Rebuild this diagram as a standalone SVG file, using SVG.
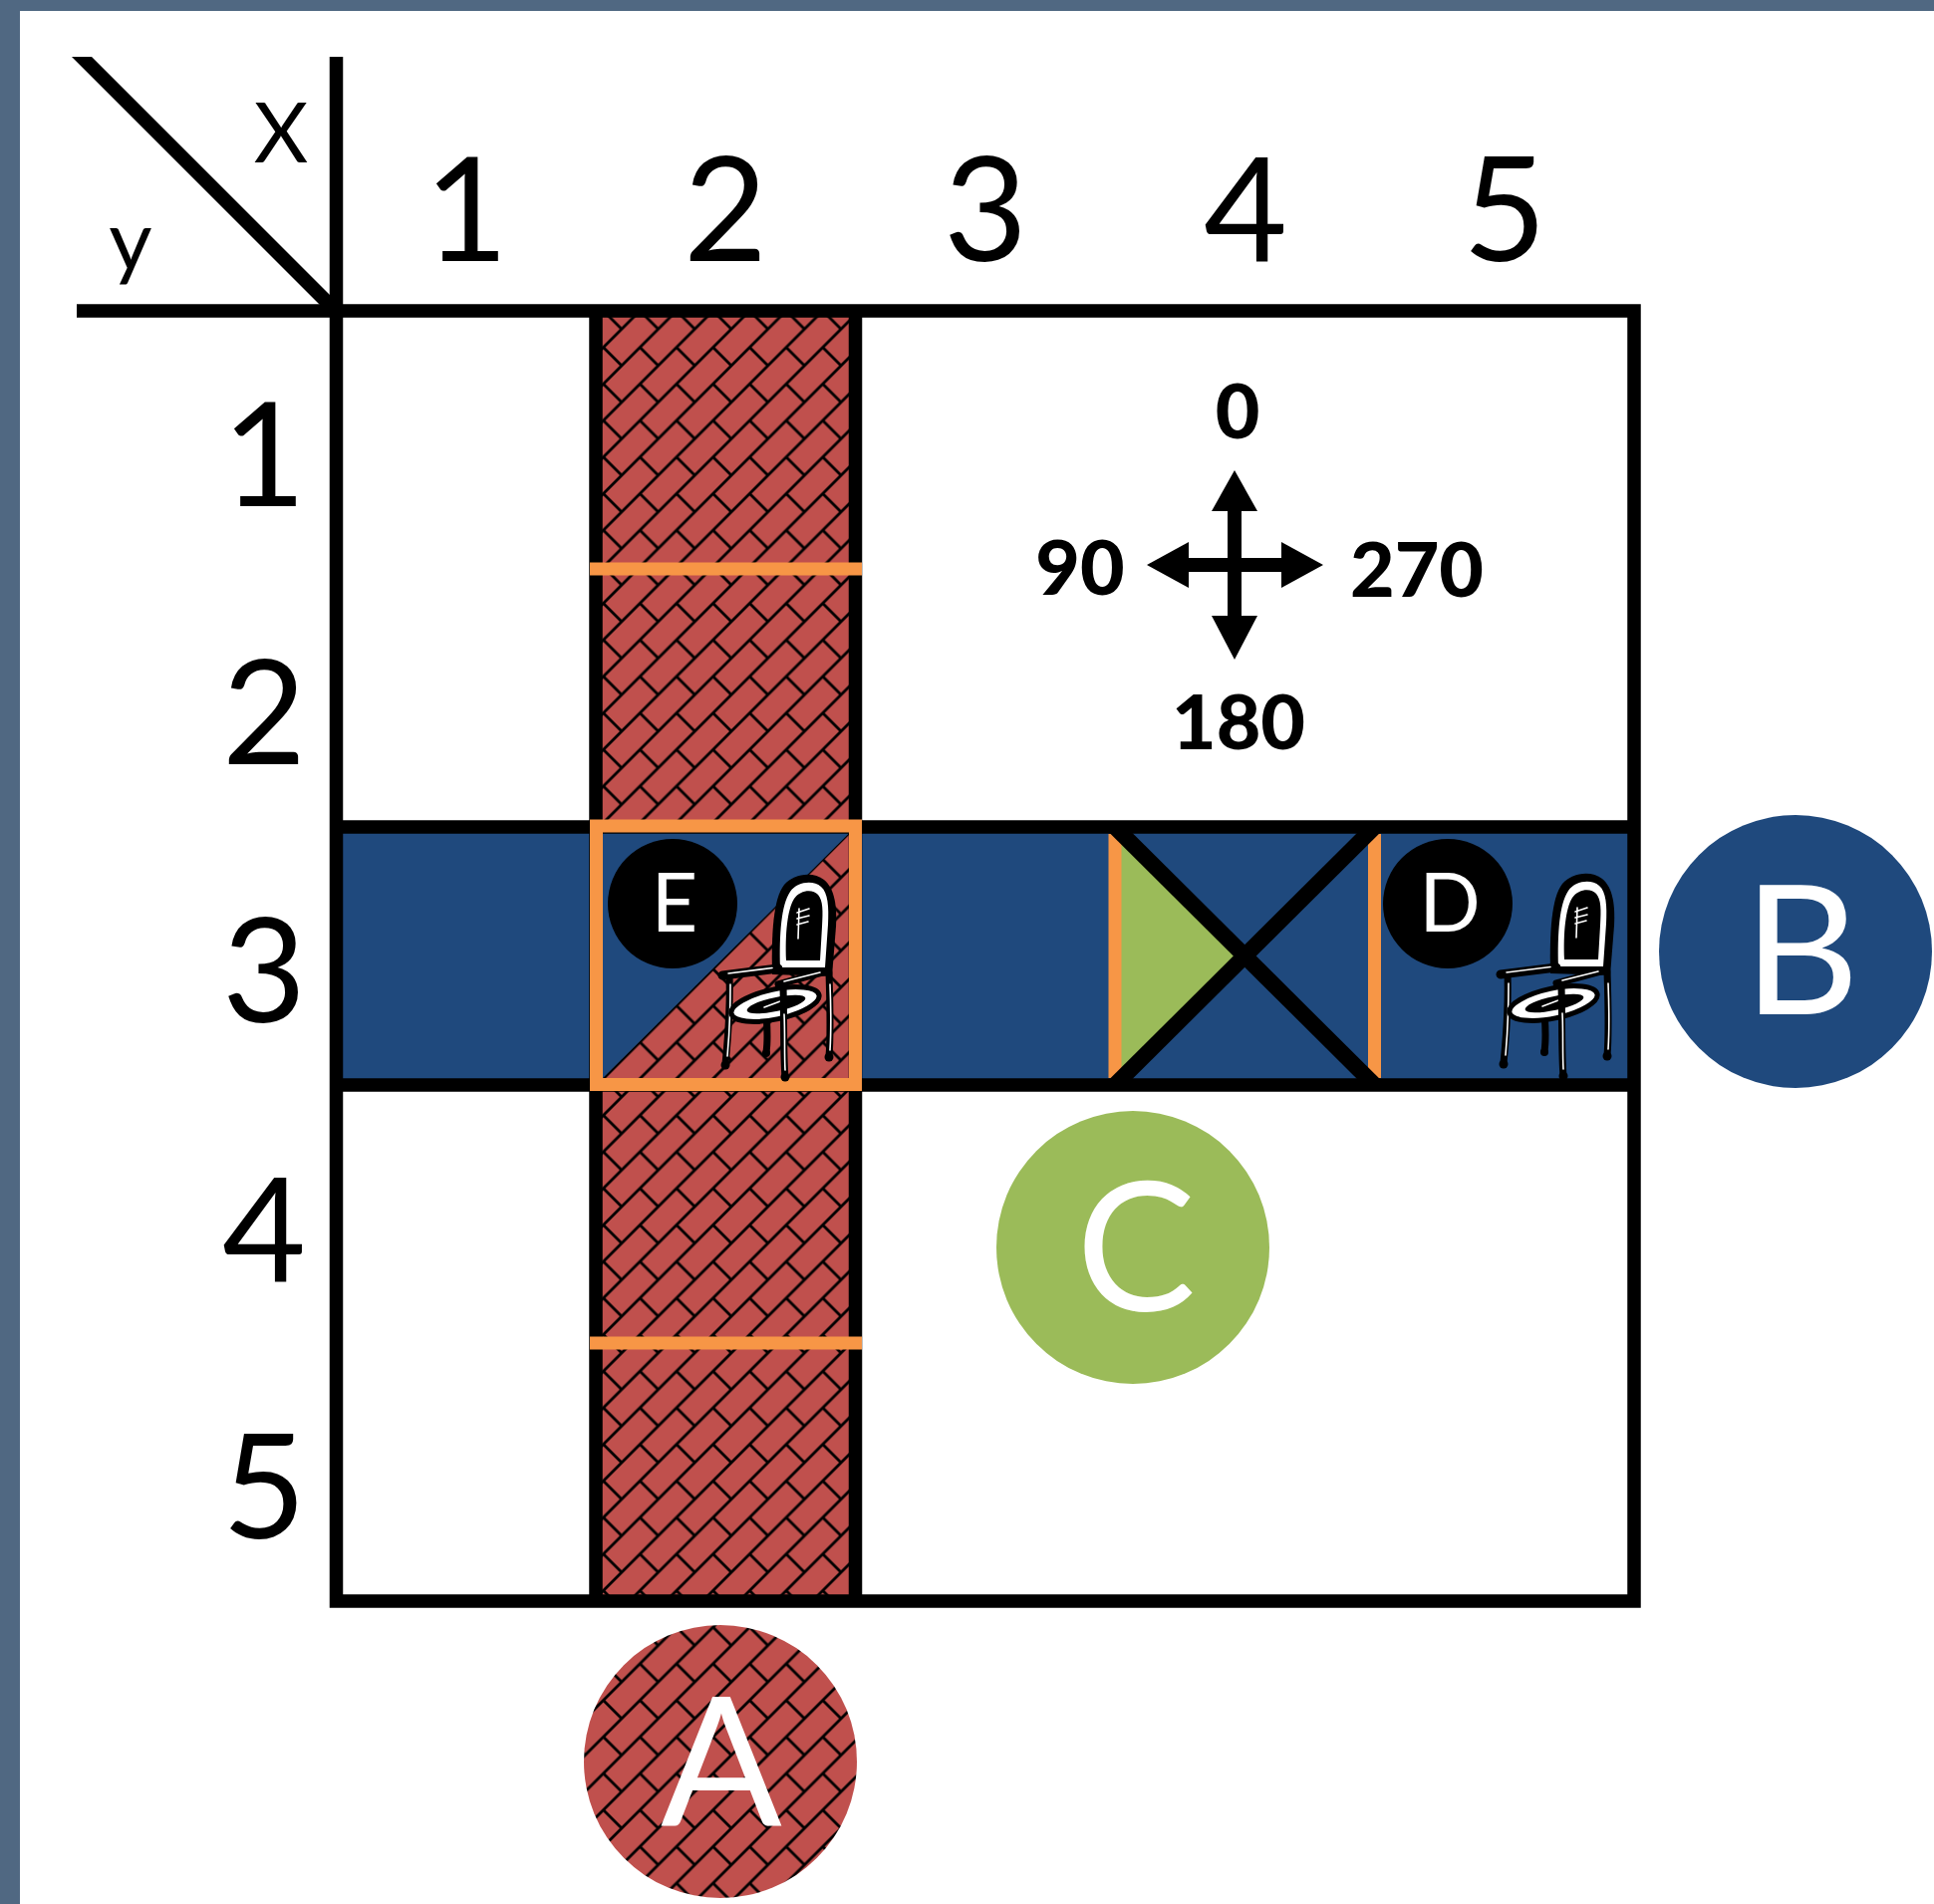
<svg xmlns="http://www.w3.org/2000/svg" xmlns:xlink="http://www.w3.org/1999/xlink" width="1941" height="1911" viewBox="0 0 1941 1911">
  <defs>
    <style>
      .lbl { font-family: Lato, "Open Sans", "Liberation Sans", sans-serif; text-anchor: middle; }
      .axisnum { font-size: 145px; fill: #000; }
      .axisname { font-size: 84px; fill: #000; }
      .big { font-size: 180px; fill: #fff; }
      .tag { font-size: 81px; fill: #fff; }
      .deg { font-size: 77px; font-weight: 900; fill: #000; }
      .blk { stroke: #000; stroke-width: 13.5; fill: none; }
      .org { stroke: #F79646; stroke-width: 13; fill: none; }
      .leg { stroke: #000; stroke-width: 7; fill: none; stroke-linecap: round; }
      .hl { stroke: #fff; stroke-width: 1.6; fill: none; stroke-linecap: round; }
    </style>
    <!-- diagonal brick fill -->
    <pattern id="brick" patternUnits="userSpaceOnUse" width="36.7" height="36.7">
      <rect width="36.7" height="36.7" fill="#C0504D"/>
      <g stroke="#000" stroke-width="2.8">
        <line x1="0" y1="36.7" x2="36.7" y2="0"/>
        <line x1="-18.35" y1="18.35" x2="18.35" y2="-18.35"/>
        <line x1="18.35" y1="55.05" x2="55.05" y2="18.35"/>
        <line x1="18.35" y1="18.35" x2="36.7" y2="36.7"/>
      </g>
    </pattern>
    <!-- armchair drawing, local box about 115 x 206 -->
    <g id="chair">
      <path d="M52 100 C51 60 53 24 64 10 C73 -1 93 -4 104 5 C115 14 117 32 116 52 L112 102 Z" fill="#000"/>
      <path d="M60 93 C59 60 61 30 70 17 C77 7 93 5 101 12 C108 18 109 32 108 50 L105 93 Z" fill="#fff"/>
      <path d="M66 86 C65 60 67 35 74 24 C80 15 93 14 98 20 C103 26 103 36 102 52 L100 86 Z" fill="#000"/>
      <path class="hl" d="M77 38 L89 34 M77 44 L89 41 M77 50 L88 47 M79 34 L78 64"/>
      <path class="leg" d="M9 100 C10 130 8 160 5 190"/>
      <path class="hl" d="M10 110 C10 135 9 160 7 182"/>
      <path class="leg" d="M46 138 C47 155 48 165 46 178"/>
      <path class="leg" d="M109 98 C110 130 111 160 109 182"/>
      <path class="hl" d="M110 110 C111 135 111 160 110 176"/>
      <path d="M2 101 L58 94" stroke="#000" stroke-width="9" stroke-linecap="round"/>
      <path class="hl" d="M8 99 L52 93.5"/>
      <path d="M58 110 L106 97" stroke="#000" stroke-width="7" stroke-linecap="round"/>
      <path class="hl" d="M64 107 L100 98"/>
      <ellipse cx="55" cy="130" rx="45" ry="15" transform="rotate(-12 55 130)" fill="#fff" stroke="#000" stroke-width="5"/>
      <ellipse cx="56" cy="130" rx="30" ry="7" transform="rotate(-12 56 130)" fill="#000"/>
      <path class="hl" d="M44 133 L60 127"/>
      <path class="leg" d="M63 112 C64 150 63 180 65 203"/>
      <path class="hl" d="M64 140 C65 160 64 180 65 196"/>
      <circle cx="5" cy="191" r="4.5"/>
      <circle cx="65" cy="203" r="4.5"/>
      <circle cx="109" cy="183" r="4.5"/>
      <circle cx="46" cy="179" r="4"/>
    </g>
  </defs>

  <!-- page frame -->
  <rect width="1941" height="1911" fill="#506882"/>
  <rect x="20" y="11" width="1921" height="1900" fill="#fff"/>

  <!-- fills of the board -->
  <g id="board">
    <rect id="corridor-a" x="598" y="312" width="260.5" height="1295" fill="url(#brick)"/>
    <rect id="corridor-b" x="337.5" y="830" width="1302.5" height="259" fill="#1F497D"/>
    <polygon id="cell-2-3-split" points="858.5,830 858.5,1089 598,1089" fill="url(#brick)"/>
    <polygon id="cell-4-3-green" points="1119,830 1119,1089 1249,959.5" fill="#9BBB59"/>
  </g>

  <!-- grid lines and axes -->
  <g id="grid">
    <rect class="blk" x="337.5" y="312" width="1302.5" height="1295"/>
    <line class="blk" x1="337.5" y1="57" x2="337.5" y2="312"/>
    <line class="blk" x1="77" y1="312" x2="337.5" y2="312"/>
    <polygon points="72,57 92,57 341,306 341,326" fill="#000"/>
    <line class="blk" x1="598" y1="312" x2="598" y2="1607"/>
    <line class="blk" x1="858.5" y1="312" x2="858.5" y2="1607"/>
    <line class="blk" x1="337.5" y1="830" x2="1640" y2="830"/>
    <line class="blk" x1="337.5" y1="1089" x2="1640" y2="1089"/>
  </g>

  <!-- orange markings -->
  <g id="marks">
    <line class="org" x1="592" y1="571" x2="865" y2="571"/>
    <line class="org" x1="592" y1="1348" x2="865" y2="1348"/>
    <rect class="org" x="598.5" y="829" width="260" height="259.5"/>
    <line class="org" x1="1119" y1="837" x2="1119" y2="1082"/>
    <line class="org" x1="1379.5" y1="837" x2="1379.5" y2="1082"/>
  </g>

  <!-- crossed cell -->
  <g id="cross" stroke="#000" stroke-width="16">
    <line x1="1119" y1="830" x2="1379.5" y2="1089"/>
    <line x1="1119" y1="1089" x2="1379.5" y2="830"/>
  </g>

  <!-- seats -->
  <g id="node-e">
    <circle cx="675" cy="907" r="65" fill="#000"/>
    <text class="lbl tag" x="677" y="935">E</text>
    <use xlink:href="#chair" transform="translate(723,878)"/>
  </g>
  <g id="node-d">
    <circle cx="1453" cy="907" r="65" fill="#000"/>
    <text class="lbl tag" x="1455" y="935">D</text>
    <use xlink:href="#chair" transform="translate(1504,877)"/>
  </g>

  <!-- axis labels -->
  <g id="axes">
    <text class="lbl axisname" x="282" y="163">X</text>
    <text class="lbl axisname" x="131" y="271">y</text>
    <text class="lbl axisnum" x="468" y="262">1</text>
    <text class="lbl axisnum" x="728" y="262">2</text>
    <text class="lbl axisnum" x="989" y="262">3</text>
    <text class="lbl axisnum" x="1250" y="262">4</text>
    <text class="lbl axisnum" x="1510" y="262">5</text>
    <text class="lbl axisnum" x="265" y="508">1</text>
    <text class="lbl axisnum" x="265" y="767">2</text>
    <text class="lbl axisnum" x="265" y="1026">3</text>
    <text class="lbl axisnum" x="265" y="1286">4</text>
    <text class="lbl axisnum" x="265" y="1544">5</text>
  </g>

  <!-- legend circles -->
  <g id="node-a">
    <circle cx="723" cy="1768" r="137" fill="url(#brick)"/>
    <text class="lbl big" x="724" y="1832">A</text>
  </g>
  <g id="node-b">
    <circle cx="1802" cy="955" r="137" fill="#1F497D"/>
    <text class="lbl big" x="1808" y="1018">B</text>
  </g>
  <g id="node-c">
    <circle cx="1137" cy="1252" r="137" fill="#9BBB59"/>
    <text class="lbl big" x="1140" y="1316">C</text>
  </g>

  <!-- heading compass -->
  <g id="compass">
    <rect x="1232" y="505" width="14" height="118" fill="#000"/>
    <rect x="1188" y="560" width="102" height="14" fill="#000"/>
    <polygon points="1239,472 1216,513 1262,513" fill="#000"/>
    <polygon points="1239,662 1216,618 1262,618" fill="#000"/>
    <polygon points="1151,567 1193,544 1193,590" fill="#000"/>
    <polygon points="1328,567 1286,544 1286,590" fill="#000"/>
    <text class="lbl deg" x="1242" y="440">0</text>
    <text class="lbl deg" x="1084" y="597">90</text>
    <text class="lbl deg" x="1422" y="599">270</text>
    <text class="lbl deg" x="1243" y="752">180</text>
  </g>
</svg>
